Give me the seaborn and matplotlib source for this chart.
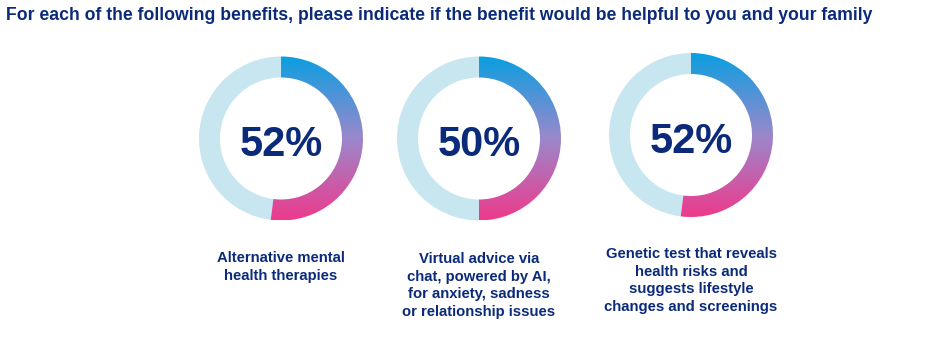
import numpy as np
import matplotlib
matplotlib.use("Agg")
import matplotlib.pyplot as plt
import seaborn as sns
from matplotlib.colors import LinearSegmentedColormap

sns.set_theme(style="white")
plt.rcParams['font.family'] = ['Liberation Sans', 'DejaVu Sans']

title = "For each of the following benefits, please indicate if the benefit would be helpful to you and your family"
values = [52, 50, 52]
labels = [
    "Alternative mental\nhealth therapies",
    "Virtual advice via\nchat, powered by AI,\nfor anxiety, sadness\nor relationship issues",
    "Genetic test that reveals\nhealth risks and\nsuggests lifestyle\nchanges and screenings",
]

NAVY = "#0B2A7A"
LIGHT = "#C8E6F0"
grad_cmap = LinearSegmentedColormap.from_list("g", ["#0A9FE0", "#9A88CC", "#EE3A8C"])

W, H = 936, 348
fig = plt.figure(figsize=(W / 100, H / 100), dpi=100)
ax = fig.add_axes([0, 0, 1, 1])
ax.set_xlim(0, W)
ax.set_ylim(0, H)
ax.set_aspect('equal')
ax.axis('off')

centers_px = [(281, 138.5), (479, 138.5), (691, 135)]
label_top_px = [251, 252, 247]
R = 82
RW = 21

fig.text(6 / W, 1 - 15 / H, title, color=NAVY, fontsize=12.7, fontweight='bold',
         ha='left', va='center')

for v, lab, (cxp, cyp), ly in zip(values, labels, centers_px, label_top_px):
    cx, cy = cxp, H - cyp
    wedges, _ = ax.pie([v, 100 - v], colors=["#ffffff", LIGHT], startangle=90,
                       counterclock=False, radius=R, center=(cx, cy),
                       wedgeprops=dict(width=RW, linewidth=0))
    grad = np.linspace(0, 1, 256).reshape(-1, 1)
    im = ax.imshow(grad, cmap=grad_cmap, aspect='auto',
                   extent=[cx - R, cx + R, cy - R, cy + R], origin='upper',
                   interpolation='bilinear', zorder=3)
    im.set_clip_path(wedges[0])
    ax.text(cx, cy - 7, f"{v}%", color=NAVY, fontsize=30, fontweight='bold',
            ha='center', va='center', zorder=4)
    ax.text(cx, H - ly, lab, color=NAVY, fontsize=10.7, fontweight='bold',
            ha='center', va='top', linespacing=1.32)

ax.set_xlim(0, W)
ax.set_ylim(0, H)
fig.savefig("out.png", dpi=100)
